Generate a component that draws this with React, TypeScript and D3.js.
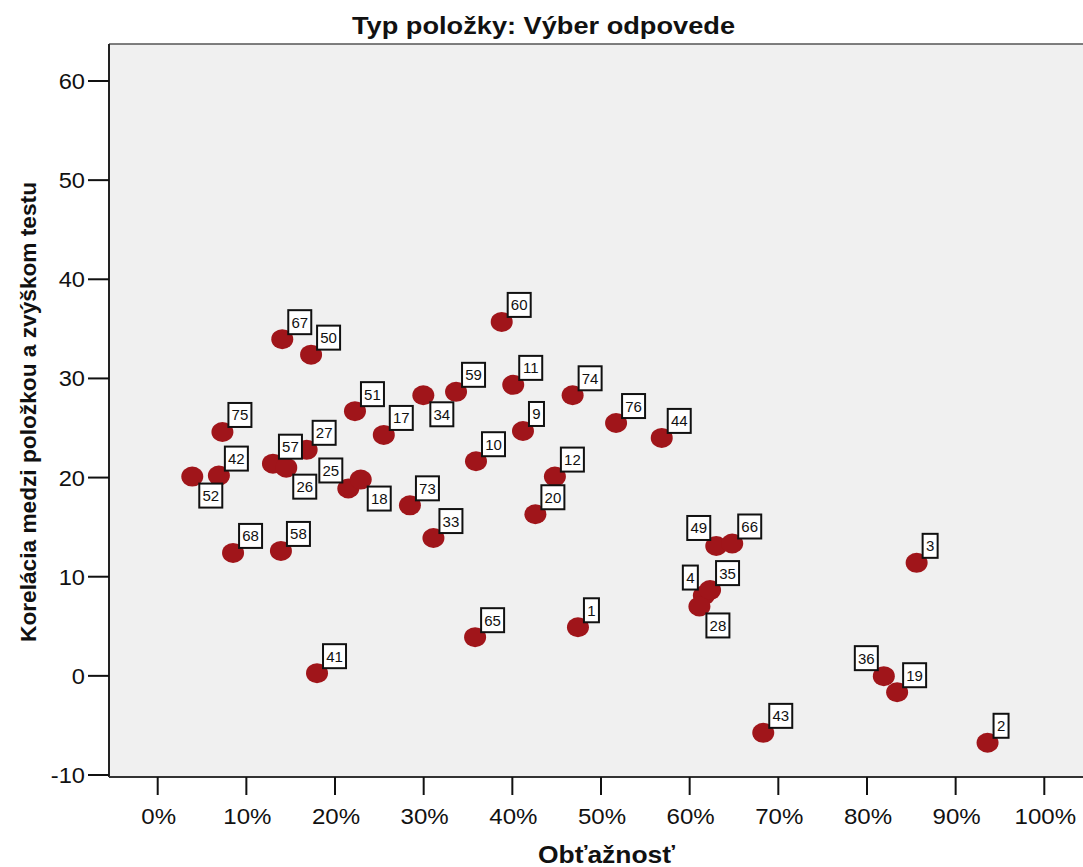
import React from "react";
import * as d3 from "d3";

const ids = [67, 50, 60, 11, 74, 59, 34, 51, 17, 9, 76, 44, 75, 27, 57, 26, 42, 52, 25, 18, 10, 12, 73, 20, 33, 68, 58, 49, 66, 3, 4, 35, 28, 65, 1, 41, 36, 19, 43, 2];
const difficulty = [14.05, 17.3, 38.8, 40.1, 46.8, 33.65, 29.96, 22.25, 25.5, 41.2, 51.7, 56.85, 7.3, 16.8, 13.0, 14.5, 6.9, 3.9, 21.5, 22.9, 35.9, 44.8, 28.45, 42.6, 31.1, 8.5, 13.9, 63.0, 64.8, 85.6, 61.6, 62.3, 61.1, 35.8, 47.4, 17.97, 81.9, 83.4, 68.3, 93.6];
const correlation = [33.96, 32.4, 35.7, 29.35, 28.3, 28.65, 28.3, 26.7, 24.3, 24.7, 25.5, 24.0, 24.6, 22.8, 21.4, 21.0, 20.2, 20.1, 18.9, 19.8, 21.65, 20.1, 17.2, 16.3, 13.9, 12.4, 12.6, 13.1, 13.35, 11.4, 8.1, 8.65, 7.0, 3.9, 4.9, 0.27, -0.03, -1.65, -5.75, -6.75];
// label placement: ur = upper right, dr = down right, ul = upper left
const labelPos = ["ur", "ur", "ur", "ur", "ur", "ur", "dr", "ur", "ur", "ur", "ur", "ur", "ur", "ur", "ur", "dr", "ur", "dr", "ul", "dr", "ur", "ur", "ur", "ur", "ur", "ur", "ur", "ul", "ur", "ur", "ul", "ur", "dr", "ur", "ur", "ur", "ul", "ur", "ur", "ur"];
const xTicks = [0, 10, 20, 30, 40, 50, 60, 70, 80, 90, 100];
const yTicks = [-10, 0, 10, 20, 30, 40, 50, 60];

const W = 1083, H = 867;
const L = 109, T = 44, B = 777, R = 1100;

export default function App() {
  const x = d3.scaleLinear().domain([0, 100]).range([157.7, 1044.3]);
  const y = d3.scaleLinear().domain([-10, 60]).range([775, 81]);
  const font = "Arial, 'Liberation Sans', sans-serif";

  return (
    <svg width={W} height={H} style={{ position: "absolute", left: 0, top: 0, background: "#fff" }} fontFamily={font}>
      <rect x={L} y={T} width={R - L} height={B - T} fill="#f0f0f0" stroke="none" />
      <line x1={L} y1={T} x2={R} y2={T} stroke="#555" strokeWidth={1.5} />
      <line x1={L} y1={T} x2={L} y2={B} stroke="#222" strokeWidth={2} />
      <line x1={L} y1={B} x2={R} y2={B} stroke="#333" strokeWidth={2} />
      {yTicks.map((t) => (
        <g key={"y" + t}>
          <line x1={88} x2={L} y1={y(t)} y2={y(t)} stroke="#111" strokeWidth={2} />
          <text transform={`translate(85, ${y(t) + 8}) scale(1.1, 1)`} textAnchor="end" fontSize={21.5} fill="#111">{t}</text>
        </g>
      ))}
      {xTicks.map((t) => (
        <g key={"x" + t}>
          <line x1={x(t)} x2={x(t)} y1={B} y2={B + 18} stroke="#111" strokeWidth={2} />
          <text transform={`translate(${x(t) + 1}, 824) scale(1.12, 1)`} textAnchor="middle" fontSize={21.5} fill="#111">{t + "%"}</text>
        </g>
      ))}
      {ids.map((id, i) => (
        <ellipse key={"p" + id} cx={x(difficulty[i])} cy={y(correlation[i])} rx={11} ry={10} fill="#a0151a" />
      ))}
      {ids.map((id, i) => {
        const cx = x(difficulty[i]);
        const cy = y(correlation[i]);
        const s = String(id);
        const w = s.length === 1 ? 15 : 23;
        const h = 24;
        const p = labelPos[i];
        let bx = cx + 6, by = cy - 5 - h;
        if (p === "dr") { bx = cx + 7; by = cy + 7; }
        if (p === "ul") { bx = cx - 6 - w; by = cy - 6 - h; }
        return (
          <g key={"l" + id}>
            <rect x={bx} y={by} width={w} height={h} fill="#fff" stroke="#111" strokeWidth={2} />
            <text x={bx + w / 2} y={by + h / 2 + 5.5} textAnchor="middle" fontSize={15} fill="#111">{s}</text>
          </g>
        );
      })}
      <text x={543.5} y={34} textAnchor="middle" fontSize={23.5} fontWeight="bold" fill="#111" textLength={383} lengthAdjust="spacingAndGlyphs">Typ položky: Výber odpovede</text>
      <text x={606.5} y={863} textAnchor="middle" fontSize={23} fontWeight="bold" fill="#111" textLength={137} lengthAdjust="spacingAndGlyphs">Obťažnosť</text>
      <text transform={`translate(36, 412) rotate(-90)`} textAnchor="middle" fontSize={22} fontWeight="bold" fill="#111" textLength={460} lengthAdjust="spacingAndGlyphs">Korelácia medzi položkou a zvýškom testu</text>
    </svg>
  );
}
